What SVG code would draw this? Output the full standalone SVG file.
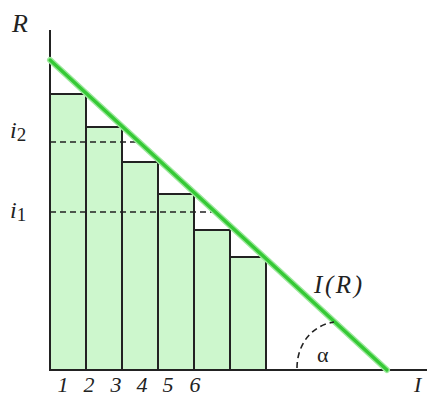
<svg xmlns="http://www.w3.org/2000/svg" width="427" height="398" viewBox="0 0 427 398">
<style>
.bar{fill:#cdf7cd;stroke:#222;stroke-width:2}
.ax{stroke:#222;stroke-width:2;fill:none}
.dash{stroke:#222;stroke-width:1.6;stroke-dasharray:6 4;fill:none}
text{font-family:'Liberation Serif',serif;fill:#222}
.lbl{font-style:italic}
</style>
<rect width="427" height="398" fill="#fff"/>
<g id="bars">
<rect class="bar" x="50" y="94" width="36" height="276"/>
<rect class="bar" x="86" y="127" width="36" height="243"/>
<rect class="bar" x="122" y="162" width="36" height="208"/>
<rect class="bar" x="158" y="194" width="36" height="176"/>
<rect class="bar" x="194" y="230" width="36" height="140"/>
<rect class="bar" x="230" y="257" width="36" height="113"/>
</g>
<g id="levels">
<line class="dash" x1="50" y1="142" x2="141" y2="142"/>
<line class="dash" x1="50" y1="212" x2="215" y2="212"/>
</g>
<g id="axes">
<line class="ax" x1="50" y1="30" x2="50" y2="371"/>
<line class="ax" x1="49" y1="370" x2="427" y2="370"/>
</g>
<g id="line-IR">
<line x1="50" y1="60" x2="387" y2="370" stroke="#9be89b" stroke-width="6" stroke-linecap="round"/>
<line x1="50" y1="60" x2="387" y2="370" stroke="#35c935" stroke-width="3.2" stroke-linecap="round"/>
</g>
<g id="angle">
<path class="dash" d="M297,368 C297,346 310,326 334,322" stroke-dasharray="5 4"/>
<text x="317" y="362" font-size="22">α</text>
</g>
<g id="labels">
<text class="lbl" x="12" y="32" font-size="26">R</text>
<text class="lbl" x="10" y="138" font-size="24">i<tspan font-style="normal" font-size="19" dy="3">2</tspan></text>
<text class="lbl" x="10" y="218" font-size="24">i<tspan font-style="normal" font-size="19" dy="3">1</tspan></text>
<text class="lbl" x="314" y="293" font-size="25" textLength="48" lengthAdjust="spacing">I(R)</text>
<text class="lbl" x="414" y="392" font-size="22">I</text>
<g font-size="22" text-anchor="middle">
<text class="lbl" x="63" y="392">1</text>
<text class="lbl" x="89" y="392">2</text>
<text class="lbl" x="116" y="392">3</text>
<text class="lbl" x="142" y="392">4</text>
<text class="lbl" x="168" y="392">5</text>
<text class="lbl" x="195" y="392">6</text>
</g>
</g>
</svg>
